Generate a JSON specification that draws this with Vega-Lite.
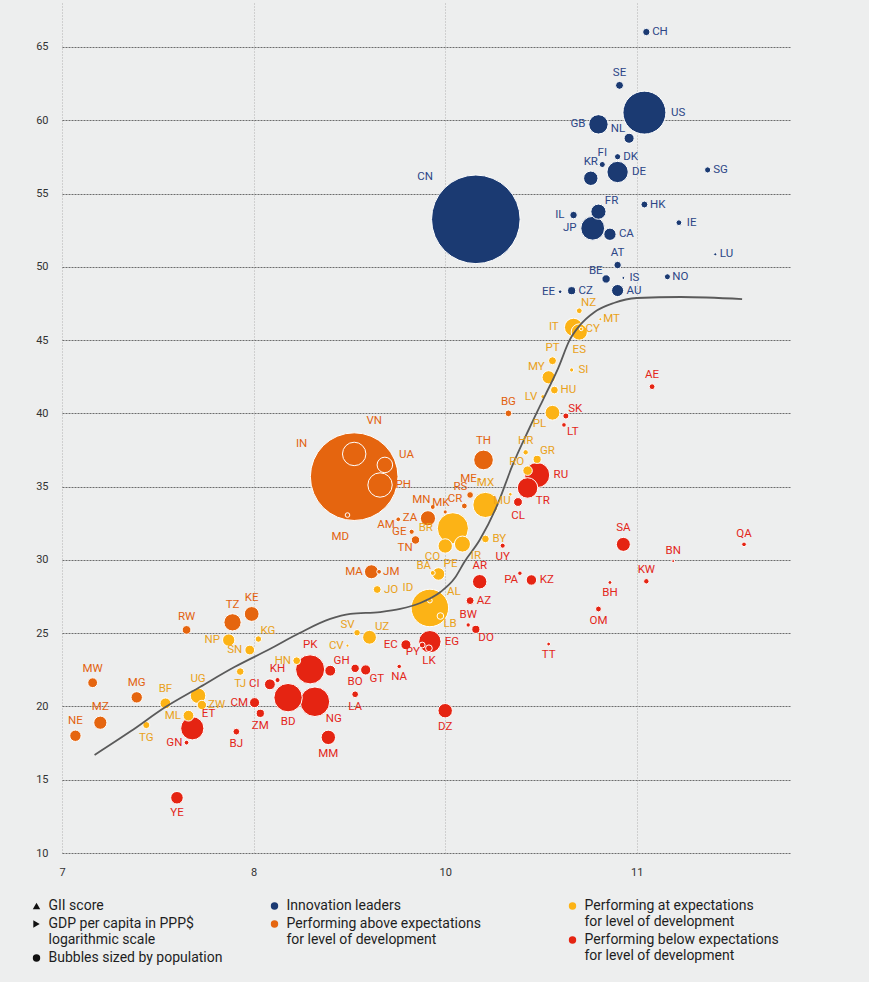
{
 "$schema": "https://vega.github.io/schema/vega-lite/v6.json",
 "width": 728, "height": 850,
 "autosize": {"type": "none"},
 "padding": {"left": 62, "top": 3, "right": 79, "bottom": 129},
 "background": "#edeeee",
 "config": {"view": {"stroke": null}, "font": "Roboto"},
 "datasets": {
  "countries": [
   {"code":"CH","gdp":11.05,"gii":66.02,"pop":8.6,"group":"leader"},
   {"code":"SE","gdp":10.91,"gii":62.38,"pop":10.2,"group":"leader"},
   {"code":"US","gdp":11.04,"gii":60.52,"pop":328,"group":"leader"},
   {"code":"GB","gdp":10.80,"gii":59.72,"pop":66,"group":"leader"},
   {"code":"NL","gdp":10.96,"gii":58.77,"pop":17,"group":"leader"},
   {"code":"DK","gdp":10.90,"gii":57.51,"pop":5.8,"group":"leader"},
   {"code":"FI","gdp":10.82,"gii":56.98,"pop":5.5,"group":"leader"},
   {"code":"DE","gdp":10.90,"gii":56.47,"pop":80,"group":"leader"},
   {"code":"KR","gdp":10.76,"gii":56.04,"pop":36,"group":"leader"},
   {"code":"SG","gdp":11.37,"gii":56.61,"pop":5.7,"group":"leader"},
   {"code":"HK","gdp":11.04,"gii":54.25,"pop":7.5,"group":"leader"},
   {"code":"FR","gdp":10.80,"gii":53.76,"pop":40,"group":"leader"},
   {"code":"IL","gdp":10.67,"gii":53.53,"pop":9,"group":"leader"},
   {"code":"CN","gdp":10.16,"gii":53.24,"pop":1400,"group":"leader"},
   {"code":"IE","gdp":11.22,"gii":53.01,"pop":4.9,"group":"leader"},
   {"code":"JP","gdp":10.77,"gii":52.63,"pop":100,"group":"leader"},
   {"code":"CA","gdp":10.86,"gii":52.22,"pop":26,"group":"leader"},
   {"code":"LU","gdp":11.41,"gii":50.85,"pop":0.6,"group":"leader"},
   {"code":"AT","gdp":10.90,"gii":50.12,"pop":8.9,"group":"leader"},
   {"code":"NO","gdp":11.16,"gii":49.32,"pop":5.4,"group":"leader"},
   {"code":"IS","gdp":10.93,"gii":49.24,"pop":0.4,"group":"leader"},
   {"code":"BE","gdp":10.84,"gii":49.17,"pop":11.5,"group":"leader"},
   {"code":"AU","gdp":10.90,"gii":48.38,"pop":25,"group":"leader"},
   {"code":"CZ","gdp":10.66,"gii":48.37,"pop":10.7,"group":"leader"},
   {"code":"EE","gdp":10.60,"gii":48.30,"pop":1.3,"group":"leader"},
   {"code":"IN","gdp":9.05,"gii":35.68,"pop":1370,"group":"above"},
   {"code":"VN","gdp":9.05,"gii":37.23,"pop":97,"group":"above"},
   {"code":"UA","gdp":9.37,"gii":36.48,"pop":42,"group":"above"},
   {"code":"PH","gdp":9.32,"gii":35.11,"pop":105,"group":"above"},
   {"code":"MD","gdp":8.98,"gii":33.06,"pop":2.7,"group":"above"},
   {"code":"TH","gdp":10.20,"gii":36.82,"pop":68,"group":"above"},
   {"code":"BG","gdp":10.33,"gii":40.00,"pop":7,"group":"above"},
   {"code":"ME","gdp":10.18,"gii":35.50,"pop":0.6,"group":"above"},
   {"code":"RS","gdp":10.13,"gii":34.43,"pop":7,"group":"above"},
   {"code":"CR","gdp":10.10,"gii":33.68,"pop":5,"group":"above"},
   {"code":"ZA","gdp":9.82,"gii":32.84,"pop":40,"group":"above"},
   {"code":"MN","gdp":9.87,"gii":33.61,"pop":3.3,"group":"above"},
   {"code":"MK","gdp":10.00,"gii":33.27,"pop":2.1,"group":"above"},
   {"code":"AM","gdp":9.51,"gii":32.77,"pop":3,"group":"above"},
   {"code":"GE","gdp":9.65,"gii":31.92,"pop":3.7,"group":"above"},
   {"code":"TN","gdp":9.69,"gii":31.36,"pop":11.7,"group":"above"},
   {"code":"MA","gdp":9.23,"gii":29.19,"pop":34,"group":"above"},
   {"code":"JM","gdp":9.31,"gii":29.19,"pop":2.9,"group":"above"},
   {"code":"KE","gdp":7.99,"gii":26.31,"pop":38,"group":"above"},
   {"code":"TZ","gdp":7.89,"gii":25.74,"pop":52,"group":"above"},
   {"code":"RW","gdp":7.65,"gii":25.22,"pop":12.6,"group":"above"},
   {"code":"MW","gdp":7.16,"gii":21.62,"pop":16,"group":"above"},
   {"code":"MG","gdp":7.39,"gii":20.62,"pop":22,"group":"above"},
   {"code":"MZ","gdp":7.20,"gii":18.89,"pop":30,"group":"above"},
   {"code":"NE","gdp":7.07,"gii":18.00,"pop":22,"group":"above"},
   {"code":"NZ","gdp":10.70,"gii":47.00,"pop":4.9,"group":"at"},
   {"code":"MT","gdp":10.81,"gii":46.42,"pop":0.5,"group":"at"},
   {"code":"IT","gdp":10.67,"gii":45.87,"pop":58,"group":"at"},
   {"code":"CY","gdp":10.71,"gii":45.76,"pop":1.2,"group":"at"},
   {"code":"ES","gdp":10.70,"gii":45.55,"pop":46,"group":"at"},
   {"code":"PT","gdp":10.56,"gii":43.59,"pop":10.3,"group":"at"},
   {"code":"SI","gdp":10.66,"gii":42.96,"pop":2.1,"group":"at"},
   {"code":"MY","gdp":10.54,"gii":42.46,"pop":30,"group":"at"},
   {"code":"HU","gdp":10.57,"gii":41.59,"pop":9.8,"group":"at"},
   {"code":"LV","gdp":10.51,"gii":41.14,"pop":1.9,"group":"at"},
   {"code":"PL","gdp":10.56,"gii":40.04,"pop":38,"group":"at"},
   {"code":"HR","gdp":10.42,"gii":37.34,"pop":4.1,"group":"at"},
   {"code":"GR","gdp":10.48,"gii":36.86,"pop":10.7,"group":"at"},
   {"code":"RO","gdp":10.43,"gii":36.09,"pop":15,"group":"at"},
   {"code":"MU","gdp":10.34,"gii":34.48,"pop":1.3,"group":"at"},
   {"code":"MX","gdp":10.21,"gii":33.75,"pop":112,"group":"at"},
   {"code":"BR","gdp":10.04,"gii":32.16,"pop":172,"group":"at"},
   {"code":"BY","gdp":10.21,"gii":31.43,"pop":9.5,"group":"at"},
   {"code":"CO","gdp":10.00,"gii":30.95,"pop":36,"group":"at"},
   {"code":"IR","gdp":10.09,"gii":31.08,"pop":45,"group":"at"},
   {"code":"PE","gdp":9.93,"gii":29.04,"pop":27,"group":"at"},
   {"code":"BA","gdp":9.87,"gii":29.11,"pop":3.3,"group":"at"},
   {"code":"ID","gdp":9.84,"gii":26.72,"pop":250,"group":"at"},
   {"code":"AL","gdp":9.84,"gii":27.22,"pop":2.9,"group":"at"},
   {"code":"LB","gdp":9.95,"gii":26.17,"pop":6.8,"group":"at"},
   {"code":"JO","gdp":9.29,"gii":27.98,"pop":10,"group":"at"},
   {"code":"SV","gdp":9.08,"gii":25.03,"pop":6.5,"group":"at"},
   {"code":"UZ","gdp":9.21,"gii":24.72,"pop":33,"group":"at"},
   {"code":"CV","gdp":8.98,"gii":24.15,"pop":0.55,"group":"at"},
   {"code":"HN","gdp":8.45,"gii":23.12,"pop":9.7,"group":"at"},
   {"code":"KG","gdp":8.05,"gii":24.60,"pop":6.4,"group":"at"},
   {"code":"NP","gdp":7.87,"gii":24.53,"pop":26,"group":"at"},
   {"code":"SN","gdp":7.98,"gii":23.85,"pop":16,"group":"at"},
   {"code":"TJ","gdp":7.93,"gii":22.38,"pop":9.3,"group":"at"},
   {"code":"UG","gdp":7.71,"gii":20.73,"pop":42,"group":"at"},
   {"code":"ZW","gdp":7.73,"gii":20.10,"pop":14.6,"group":"at"},
   {"code":"BF","gdp":7.54,"gii":20.21,"pop":20,"group":"at"},
   {"code":"ML","gdp":7.66,"gii":19.37,"pop":19.7,"group":"at"},
   {"code":"TG","gdp":7.44,"gii":18.73,"pop":8,"group":"at"},
   {"code":"AE","gdp":11.08,"gii":41.82,"pop":5,"group":"below"},
   {"code":"SK","gdp":10.63,"gii":39.82,"pop":5.5,"group":"below"},
   {"code":"LT","gdp":10.62,"gii":39.21,"pop":2.8,"group":"below"},
   {"code":"RU","gdp":10.48,"gii":35.79,"pop":112,"group":"below"},
   {"code":"TR","gdp":10.43,"gii":34.91,"pop":74,"group":"below"},
   {"code":"CL","gdp":10.38,"gii":33.95,"pop":13,"group":"below"},
   {"code":"UY","gdp":10.30,"gii":30.97,"pop":3.5,"group":"below"},
   {"code":"AR","gdp":10.18,"gii":28.51,"pop":36,"group":"below"},
   {"code":"PA","gdp":10.39,"gii":29.09,"pop":2.5,"group":"below"},
   {"code":"KZ","gdp":10.45,"gii":28.63,"pop":18.5,"group":"below"},
   {"code":"AZ","gdp":10.13,"gii":27.22,"pop":10,"group":"below"},
   {"code":"BW","gdp":10.12,"gii":25.56,"pop":2.3,"group":"below"},
   {"code":"DO","gdp":10.16,"gii":25.26,"pop":10.7,"group":"below"},
   {"code":"TT","gdp":10.54,"gii":24.26,"pop":1.4,"group":"below"},
   {"code":"SA","gdp":10.93,"gii":31.06,"pop":34,"group":"below"},
   {"code":"QA","gdp":11.56,"gii":31.06,"pop":2.8,"group":"below"},
   {"code":"BN","gdp":11.19,"gii":29.92,"pop":0.43,"group":"below"},
   {"code":"KW","gdp":11.05,"gii":28.54,"pop":4.2,"group":"below"},
   {"code":"BH","gdp":10.86,"gii":28.46,"pop":1.6,"group":"below"},
   {"code":"OM","gdp":10.80,"gii":26.65,"pop":5,"group":"below"},
   {"code":"EG","gdp":9.84,"gii":24.42,"pop":88,"group":"below"},
   {"code":"LK","gdp":9.83,"gii":23.97,"pop":7,"group":"below"},
   {"code":"PY","gdp":9.76,"gii":24.19,"pop":5,"group":"below"},
   {"code":"EC","gdp":9.59,"gii":24.21,"pop":17,"group":"below"},
   {"code":"NA","gdp":9.52,"gii":22.73,"pop":2.5,"group":"below"},
   {"code":"DZ","gdp":10.00,"gii":19.71,"pop":36,"group":"below"},
   {"code":"BO","gdp":9.06,"gii":22.60,"pop":11.5,"group":"below"},
   {"code":"GT","gdp":9.17,"gii":22.49,"pop":17.5,"group":"below"},
   {"code":"LA","gdp":9.06,"gii":20.83,"pop":7,"group":"below"},
   {"code":"GH","gdp":8.80,"gii":22.44,"pop":20,"group":"below"},
   {"code":"PK","gdp":8.59,"gii":22.53,"pop":150,"group":"below"},
   {"code":"KH","gdp":8.25,"gii":21.80,"pop":3.5,"group":"below"},
   {"code":"CI","gdp":8.17,"gii":21.51,"pop":20,"group":"below"},
   {"code":"BD","gdp":8.36,"gii":20.60,"pop":143,"group":"below"},
   {"code":"NG","gdp":8.64,"gii":20.32,"pop":155,"group":"below"},
   {"code":"CM","gdp":8.01,"gii":20.26,"pop":17,"group":"below"},
   {"code":"ZM","gdp":8.07,"gii":19.53,"pop":11,"group":"below"},
   {"code":"BJ","gdp":7.91,"gii":18.28,"pop":7,"group":"below"},
   {"code":"MM","gdp":8.78,"gii":17.89,"pop":36,"group":"below"},
   {"code":"ET","gdp":7.68,"gii":18.51,"pop":95,"group":"below"},
   {"code":"GN","gdp":7.65,"gii":17.53,"pop":3,"group":"below"},
   {"code":"YE","gdp":7.60,"gii":13.77,"pop":27,"group":"below"}
  ],
  "trend": [
   {"gdp":7.17,"gii":16.69},{"gdp":7.36,"gii":18.32},{"gdp":7.54,"gii":19.96},{"gdp":7.72,"gii":21.33},
   {"gdp":7.90,"gii":22.69},{"gdp":8.17,"gii":23.92},{"gdp":8.48,"gii":25.01},{"gdp":8.80,"gii":25.97},
   {"gdp":9.01,"gii":26.31},{"gdp":9.32,"gii":26.44},{"gdp":9.53,"gii":26.65},{"gdp":9.74,"gii":27.06},
   {"gdp":9.95,"gii":27.81},{"gdp":10.05,"gii":28.76},{"gdp":10.10,"gii":29.86},{"gdp":10.18,"gii":31.36},
   {"gdp":10.27,"gii":33.68},{"gdp":10.35,"gii":36.41},{"gdp":10.44,"gii":39.00},{"gdp":10.52,"gii":41.18},
   {"gdp":10.59,"gii":43.09},{"gdp":10.65,"gii":45.01},{"gdp":10.70,"gii":45.96},{"gdp":10.78,"gii":46.92},
   {"gdp":10.88,"gii":47.53},{"gdp":11.00,"gii":47.87},{"gdp":11.23,"gii":47.94},{"gdp":11.55,"gii":47.80}
  ],
  "notes": [
   {"note":"GII score"},
   {"note":"GDP per capita in PPP$ logarithmic scale"},
   {"note":"Bubbles sized by population"}
  ]
 },
 "layer": [
  {
   "data": {"name": "countries"},
   "transform": [{"filter": "datum.group == 'leader' || datum.group == 'above'"}],
   "mark": {"type": "circle", "opacity": 1, "stroke": "#ffffff", "strokeWidth": 1},
   "encoding": {
    "x": {"field": "gdp", "type": "quantitative",
     "scale": {"domain": [7, 8, 10, 11.8], "range": [0, 191.6, 383.2, 728], "nice": false, "zero": false},
     "axis": {"values": [7, 8, 10, 11], "format": "d", "title": null, "domain": false, "ticks": false, "labelPadding": 13,
      "labelFont": "Roboto", "labelFontSize": 11, "labelColor": "#333333", "labelFlush": false, "labelOverlap": false,
      "grid": true, "gridColor": "#b0b0b0", "gridDash": [1, 2], "gridWidth": 1}},
    "y": {"field": "gii", "type": "quantitative",
     "scale": {"domain": [10, 68], "nice": false, "zero": false},
     "axis": {"values": [10, 15, 20, 25, 30, 35, 40, 45, 50, 55, 60, 65], "title": null, "domain": false, "ticks": false,
      "labelPadding": 14, "labelFont": "Roboto", "labelFontSize": 11, "labelColor": "#333333", "labelFlush": false,
      "labelOverlap": false, "grid": true, "gridColor": "#4a4a4a", "gridDash": [2, 1], "gridWidth": 0.8}},
    "size": {"field": "pop", "type": "quantitative", "scale": {"type": "linear", "domain": [0, 1400], "range": [6, 7846]}, "legend": null},
    "fill": {"field": "group", "type": "nominal",
     "scale": {"domain": ["leader", "above"], "range": ["#1b3a72", "#e5650f"]},
     "legend": {"orient": "none", "legendX": 205.5, "legendY": 896, "title": null, "direction": "vertical", "padding": 0,
      "symbolType": "circle", "symbolSize": 55, "symbolStrokeWidth": 0, "labelFont": "Roboto", "labelFontSize": 14,
      "labelColor": "#1e1e1e", "labelOffset": 5, "labelLimit": 400, "rowPadding": 4,
      "labelExpr": "datum.value == 'leader' ? 'Innovation leaders' : ['Performing above expectations', 'for level of development']"}},
    "order": {"field": "pop", "type": "quantitative", "sort": "descending"}
   }
  },
  {
   "data": {"name": "countries"},
   "transform": [{"filter": "datum.group == 'at' || datum.group == 'below'"}],
   "mark": {"type": "circle", "opacity": 1, "stroke": "#ffffff", "strokeWidth": 1},
   "encoding": {
    "x": {"field": "gdp", "type": "quantitative"},
    "y": {"field": "gii", "type": "quantitative"},
    "size": {"field": "pop", "type": "quantitative", "legend": null},
    "fill": {"field": "group", "type": "nominal",
     "scale": {"domain": ["at", "below"], "range": ["#fcb316", "#e52412"]},
     "legend": {"orient": "none", "legendX": 503.5, "legendY": 896, "title": null, "direction": "vertical", "padding": 0,
      "symbolType": "circle", "symbolSize": 55, "symbolStrokeWidth": 0, "labelFont": "Roboto", "labelFontSize": 14,
      "labelColor": "#1e1e1e", "labelOffset": 5, "labelLimit": 400, "rowPadding": 4,
      "labelExpr": "datum.value == 'at' ? ['Performing at expectations', 'for level of development'] : ['Performing below expectations', 'for level of development']"}},
    "order": {"field": "pop", "type": "quantitative", "sort": "descending"}
   }
  },
  {
   "data": {"name": "trend"},
   "mark": {"type": "line", "interpolate": "monotone", "color": "#5a5a5a", "strokeWidth": 1.8},
   "encoding": {
    "x": {"field": "gdp", "type": "quantitative"},
    "y": {"field": "gii", "type": "quantitative"}
   }
  },
  {
   "data": {"name": "countries"},
   "transform": [
    {"calculate": "sqrt((6 + 5.6 * datum.pop) / PI)", "as": "r"},
    {"calculate": "7 * length(datum.code)", "as": "w"},
    {"calculate": "indexof(['IN','CN','VN','UA','MD','AL','MN','MK','AM'], datum.code)", "as": "ci"},
    {"calculate": "indexof(split('CH US DK DE SG HK CA IS AU CZ IE LU NO MT CY SI HU BY JO ZW PH JM RU KZ AZ EG', ' '), datum.code) >= 0 ? 'R' : indexof(split('GB IL JP EE IT LV BR CV HN NP SN ML ME ZA GE MA EC CI CM GN', ' '), datum.code) >= 0 ? 'L' : indexof(split('SE FI KR AT PT HR MX UG BF TH BG KE TZ RW MW MG MZ NE AE AR BW SA QA BN KW PK KH', ' '), datum.code) >= 0 ? 'T' : indexof(split('ES TJ TG CL UY TT BH OM LK NA DZ BO LA BD ZM BJ MM YE', ' '), datum.code) >= 0 ? 'B' : indexof(split('NL BE MY RO BA ID SV RS CR', ' '), datum.code) >= 0 ? 'TL' : indexof(split('FR NZ GR PE UZ KG GH ET SK', ' '), datum.code) >= 0 ? 'TR' : indexof(split('PL MU CO TN PA PY', ' '), datum.code) >= 0 ? 'BL' : 'BR'", "as": "dir"},
    {"calculate": "datum.ci >= 0 ? [-52.6, -50.7, 20, 21.7, -7.3, 24, -11.3, -4.3, -12.3][datum.ci] : datum.dir == 'R' ? datum.r + 2.5 + datum.w / 2 : datum.dir == 'L' ? -(datum.r + 2.5 + datum.w / 2) : (datum.dir == 'T' || datum.dir == 'B') ? 0 : (datum.dir == 'TL' || datum.dir == 'BL') ? -(0.71 * datum.r + datum.w / 2) : 0.71 * datum.r + datum.w / 2", "as": "ox"},
    {"calculate": "datum.ci >= 0 ? [-32.4, -42, -33.3, -10, 22.3, -8.4, -7, -9.3, 5.7][datum.ci] : datum.dir == 'T' ? -(datum.r + 8) : datum.dir == 'B' ? datum.r + 8.5 : (datum.dir == 'R' || datum.dir == 'L') ? 0 : (datum.dir == 'TL' || datum.dir == 'TR') ? -(0.71 * datum.r + 5) : 0.71 * datum.r + 5", "as": "oy"},
    {"calculate": "datum.gdp <= 8 ? (datum.gdp - 7) * 191.6 : datum.gdp <= 10 ? 191.6 + (datum.gdp - 8) * 95.8 : 383.2 + (datum.gdp - 10) * 191.6", "as": "px"},
    {"calculate": "datum.px + datum.ox", "as": "lp"},
    {"calculate": "datum.lp <= 191.6 ? 7 + datum.lp / 191.6 : datum.lp <= 383.2 ? 8 + (datum.lp - 191.6) / 95.8 : 10 + (datum.lp - 383.2) / 191.6", "as": "lx"},
    {"calculate": "datum.gii - datum.oy * 58 / 850", "as": "ly"}
   ],
   "mark": {"type": "text", "font": "Roboto", "fontSize": 11.5, "align": "center", "baseline": "middle"},
   "encoding": {
    "x": {"field": "lx", "type": "quantitative"},
    "y": {"field": "ly", "type": "quantitative"},
    "text": {"field": "code", "type": "nominal"},
    "color": {"field": "group", "type": "nominal",
     "scale": {"domain": ["leader", "above", "at", "below"], "range": ["#2c4687", "#e2620e", "#e9a11a", "#e3261a"]},
     "legend": null}
   }
  },
  {
   "data": {"name": "notes"},
   "mark": {"type": "point", "filled": true, "color": "#111111", "opacity": 0},
   "encoding": {
    "shape": {"field": "note", "type": "nominal",
     "scale": {"domain": ["GII score", "GDP per capita in PPP$ logarithmic scale", "Bubbles sized by population"], "range": ["triangle-up", "triangle-right", "circle"]},
     "legend": {"orient": "none", "legendX": -32.5, "legendY": 896, "title": null, "direction": "vertical", "padding": 0,
      "symbolSize": 55, "symbolFillColor": "#111111", "symbolOpacity": 1, "symbolStrokeWidth": 0,
      "labelFont": "Roboto", "labelFontSize": 14, "labelColor": "#1e1e1e", "labelOffset": 5, "labelLimit": 400, "rowPadding": 4,
      "labelExpr": "datum.value == 'GDP per capita in PPP$ logarithmic scale' ? ['GDP per capita in PPP$', 'logarithmic scale'] : datum.label"}}
   }
  }
 ],
 "resolve": {"scale": {"fill": "independent"}}
}
